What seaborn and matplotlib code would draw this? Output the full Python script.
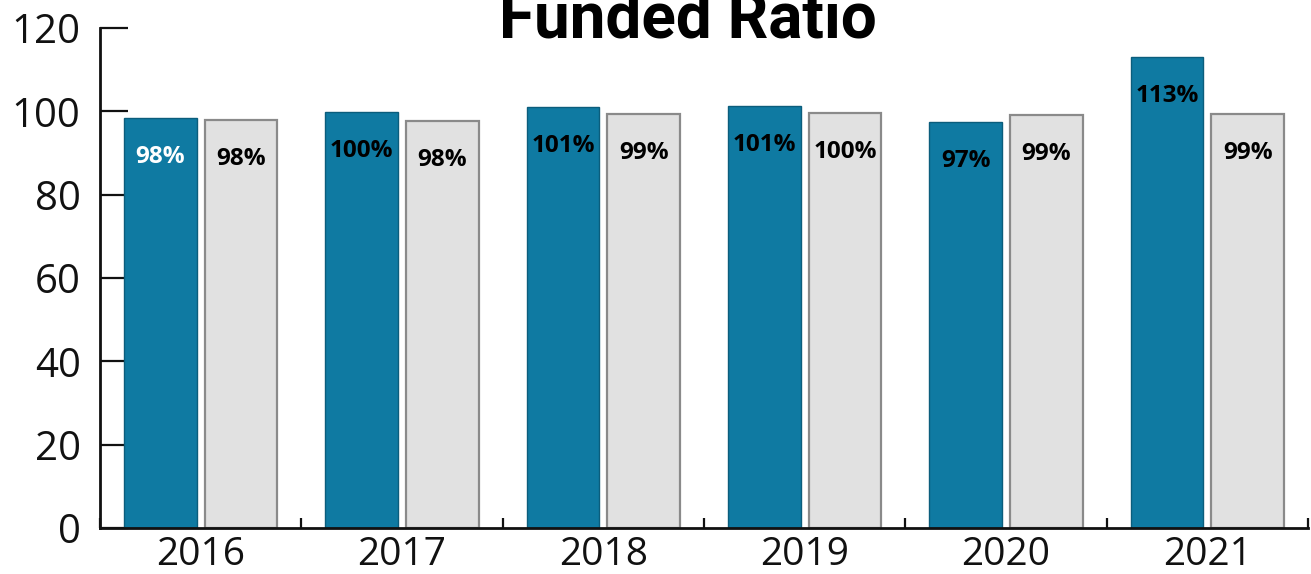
import matplotlib.pyplot as plt
import numpy as np
import pandas as pd
import seaborn as sns

# chart data
years = ["2016", "2017", "2018", "2019", "2020", "2021"]
plan_ratio = [98.4, 99.8, 101.0, 101.3, 97.4, 113.0]
peer_ratio = [97.9, 97.7, 99.4, 99.6, 99.1, 99.4]
plan_labels = ["98%", "100%", "101%", "101%", "97%", "113%"]
peer_labels = ["98%", "98%", "99%", "100%", "99%", "99%"]
series_names = ["Plan", "Peers"]

teal = "#0f7aa2"
grey = "#e1e1e1"

df = pd.DataFrame({
    "year": years * 2,
    "ratio": plan_ratio + peer_ratio,
    "series": [series_names[0]] * len(years) + [series_names[1]] * len(years),
})

sns.set_style("white")
plt.rcParams["font.family"] = ["Open Sans", "DejaVu Sans"]

fig = plt.figure(figsize=(13.11, 5.74), dpi=100)
ax = fig.add_axes([100 / 1311, 1 - 528 / 574, 1208 / 1311, 500 / 574])

sns.barplot(data=df, x="year", y="ratio", hue="series", order=years,
            hue_order=series_names, palette=[teal, grey], width=0.8, gap=0.1,
            legend=False, ax=ax, errorbar=None, saturation=1)

# bar edges
n = len(years)
for i, p in enumerate(ax.patches[:2 * n]):
    if i < n:
        p.set_edgecolor("#0b5d7c")
        p.set_linewidth(1.0)
    else:
        p.set_edgecolor("#8a8a8a")
        p.set_linewidth(1.6)

# value labels inside bars
bars = ax.patches[:2 * n]
all_labels = plan_labels + peer_labels
for i, (p, txt) in enumerate(zip(bars, all_labels)):
    col = "white" if i == 0 else "black"
    ax.annotate(txt, (p.get_x() + p.get_width() / 2, p.get_height()),
                xytext=(0, -28), textcoords="offset points",
                ha="center", va="center", fontsize=17.5, fontweight="bold",
                color=col)

ax.set_xlim(-0.5, n - 0.5)
ax.set_ylim(0, 120)
ax.set_yticks(np.arange(0, 121, 20))
ax.set_xlabel("")
ax.set_ylabel("")

for s in ["top", "right"]:
    ax.spines[s].set_visible(False)
for s in ["left", "bottom"]:
    ax.spines[s].set_color("#111111")
    ax.spines[s].set_linewidth(2)

ax.tick_params(axis="y", direction="in", length=20, width=1.6, color="#111111",
               labelsize=29, pad=14, left=True)
ax.tick_params(axis="x", which="major", length=0, labelsize=28, pad=6)
ax.set_xticks(np.arange(-0.5, n, 1.0), minor=True)
ax.tick_params(axis="x", which="minor", direction="in", length=7, width=1.6,
               color="#111111", bottom=True)
for lab in ax.get_xticklabels() + ax.get_yticklabels():
    lab.set_color("#111111")

fig.text(688 / 1311, 1 - 38 / 574, "Funded Ratio", ha="center", va="baseline",
         fontsize=46, fontweight="bold", color="black",
         family=["Roboto", "DejaVu Sans"])

fig.savefig("out.png", dpi=100)
